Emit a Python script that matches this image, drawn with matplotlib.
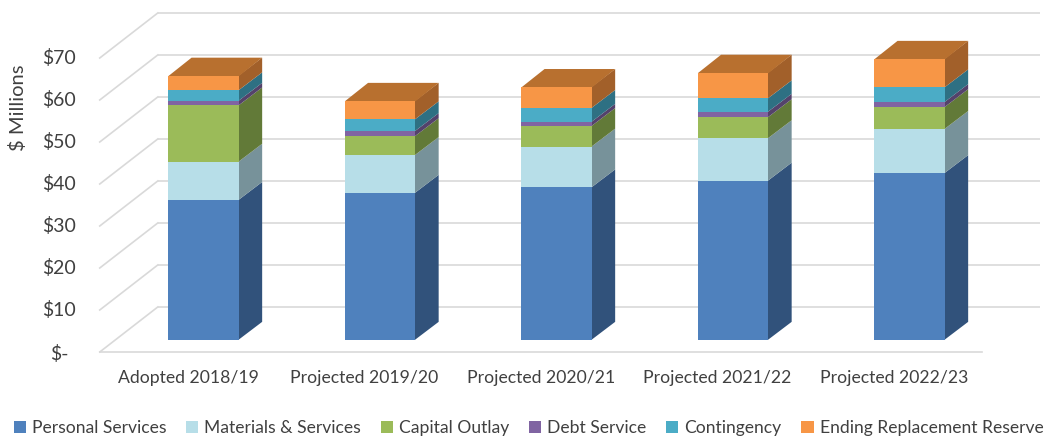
import matplotlib
matplotlib.use("Agg")
import matplotlib.pyplot as plt
from matplotlib.patches import Patch

plt.rcParams['font.family'] = ['Lato', 'DejaVu Sans']

categories = ["Adopted 2018/19", "Projected 2019/20", "Projected 2020/21",
              "Projected 2021/22", "Projected 2022/23"]
series_names = ["Personal Services", "Materials & Services", "Capital Outlay",
                "Debt Service", "Contingency", "Ending Replacement Reserve"]
personal = [33.3, 35.0, 36.3, 37.9, 39.7]
materials = [9.1, 9.0, 9.7, 10.1, 10.5]
capital = [13.4, 4.5, 4.9, 5.0, 5.2]
debt = [1.1, 1.2, 1.0, 1.3, 1.2]
contingency = [2.5, 2.8, 3.3, 3.2, 3.5]
reserve = [3.5, 4.4, 5.0, 6.1, 6.8]
series = [personal, materials, capital, debt, contingency, reserve]
yticks = [0, 10, 20, 30, 40, 50, 60, 70]
ytick_labels = ["$-", "$10", "$20", "$30", "$40", "$50", "$60", "$70"]

front_colors = ['#4F81BD', '#B7DEE8', '#9BBB59', '#8064A2', '#4BACC6', '#F79646']
side_colors = ['#31527B', '#77929A', '#627A38', '#54426B', '#2E7083', '#A2602A']
top_color = '#B8702F'
grid_color = '#D9D9D9'
text_color = '#404040'

W, H = 1057, 440
fig = plt.figure(figsize=(W / 100, H / 100), dpi=100)
ax = fig.add_axes([0, 0, 1, 1])
# axis mapping: 176.5 px per category, 4.2 px per $1 ; category 0 at px 188, $0 at px 352 (from top)
PX_X, PX_Y, X0, Y0 = 176.5, 4.2, 188, 352
ax.set_xlim((0 - X0) / PX_X, (W - X0) / PX_X)
ax.set_ylim((Y0 - H) / PX_Y, Y0 / PX_Y)
ax.axis('off')

# depth projection (per unit of full depth)
DX = 58 / PX_X
DY = 45 / PX_Y
n = len(categories)
xl, xr = -0.5, n - 0.5

# back wall gridlines + left wall diagonals
for t in yticks:
    ax.plot([xl + DX, xr + DX], [t + DY, t + DY], color=grid_color, lw=1.2, zorder=1,
            solid_capstyle='butt')
    ax.plot([xl, xl + DX], [t, t + DY], color=grid_color, lw=1.2, zorder=1)
# floor front edge
ax.plot([xl, xr], [0, 0], color=grid_color, lw=1.2, zorder=1)

# bars
f0, f1 = 0.27, 0.67
half = 0.2
for i in range(n):
    bottom = 0.0
    for k, vals in enumerate(series):
        v = vals[i]
        top = bottom + v
        xa, xb = i - half + f0 * DX, i + half + f0 * DX
        ya, yb = bottom + f0 * DY, top + f0 * DY
        sx = (f1 - f0) * DX
        sy = (f1 - f0) * DY
        ax.fill([xb - 0.003, xb + sx, xb + sx, xb - 0.003], [ya, ya + sy, yb + sy, yb],
                color=side_colors[k], lw=0, zorder=3)
        ax.fill([xa, xb, xb, xa], [ya, ya, yb, yb], color=front_colors[k], lw=0, zorder=4)
        bottom = top
    # top face
    yt = bottom + f0 * DY
    xa, xb = i - half + f0 * DX, i + half + f0 * DX
    sx = (f1 - f0) * DX
    sy = (f1 - f0) * DY
    ax.fill([xa, xb, xb + sx, xa + sx], [yt - 0.1, yt - 0.1, yt + sy, yt + sy], color=top_color,
            lw=0, zorder=3)

# category labels
for i, c in enumerate(categories):
    ax.text(i, -(378 - Y0) / PX_Y, c, ha='center', va='center', fontsize=12.7, color=text_color)

# y tick labels
for t, lab in zip(yticks, ytick_labels):
    if t == 0:
        ax.text((50 - X0) / PX_X, t - 2 / PX_Y, lab, ha='left', va='center', fontsize=14, color=text_color)
    else:
        ax.text((76 - X0) / PX_X, t, lab, ha='right', va='center', fontsize=14, color=text_color)

ax.text((18 - X0) / PX_X, (Y0 - 108) / PX_Y, "$ Millions", rotation=90, ha='center', va='center',
        fontsize=14.5, color=text_color)

handles = [Patch(facecolor=c, edgecolor='none') for c in front_colors]
fig.legend(handles, series_names, loc='center', bbox_to_anchor=(0.5, 1 - 428 / H), ncol=6,
           frameon=False, fontsize=12.6, handlelength=0.7, handleheight=0.7, handletextpad=0.35,
           columnspacing=1.12, labelcolor=text_color)

fig.savefig("out.png", dpi=100)
